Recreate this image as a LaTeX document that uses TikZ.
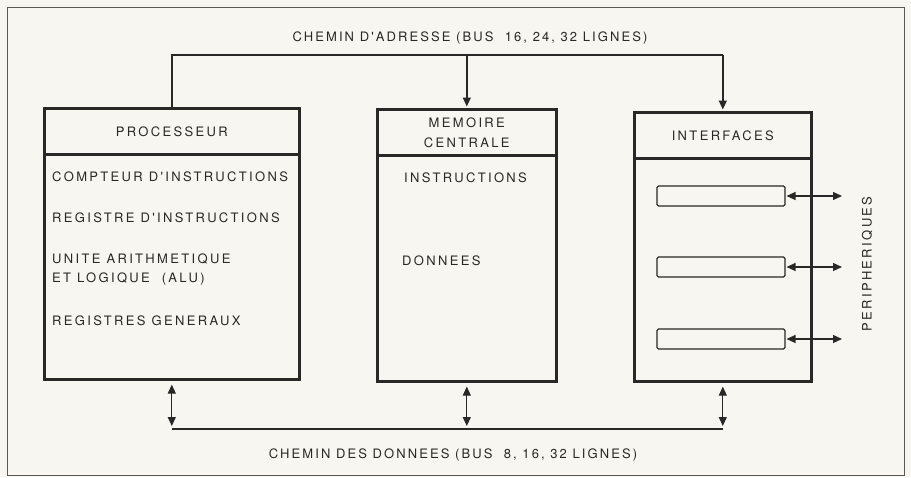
\documentclass[tikz,border=0pt]{standalone}
\usepackage{fontspec}
\newfontfamily\lab[LetterSpace=18]{TeX Gyre Heros}
\newfontfamily\buslab[LetterSpace=16]{TeX Gyre Heros}
\usetikzlibrary{arrows.meta}
\definecolor{paper}{RGB}{248,246,240}
\definecolor{ink}{RGB}{42,40,38}
\definecolor{frameink}{RGB}{90,88,85}
\begin{document}
\begin{tikzpicture}[x=1pt,y=-1pt,
  boxpart/.style={draw=ink, line width=2.6pt, inner sep=0pt, anchor=north west},
  slot/.style={draw=ink, line width=1.1pt, rounded corners=1.5pt, minimum width=128pt, minimum height=20pt, inner sep=0pt},
  txt/.style={text=ink, font=\lab\fontsize{13}{15}\selectfont, inner sep=0pt, text height=9.4pt, text depth=0pt},
  bustxt/.style={text=ink, font=\buslab\fontsize{13}{15}\selectfont, inner sep=0pt, text height=9.4pt, text depth=0pt},
  bus/.style={draw=ink, line width=1.4pt},
  tip/.style={-{Triangle[length=9pt,width=8pt]}},
  dtip/.style={{Triangle[length=9pt,width=8pt]}-{Triangle[length=9pt,width=8pt]}}]
\fill[paper] (0,0) rectangle (911,477);
\useasboundingbox (0,0) rectangle (911,477);
\draw[frameink, line width=0.9pt] (7.5,7.5) rectangle (904.5,475.5);

% boxes
\node[boxpart, minimum width=255pt, minimum height=46pt] (ph) at (43,107) {};
\node[boxpart, minimum width=255pt, minimum height=225pt] (pb) at (43,153) {};
\node[boxpart, minimum width=179pt, minimum height=46pt] (mh) at (376,108) {};
\node[boxpart, minimum width=179pt, minimum height=226pt] (mb) at (376,154) {};
\node[boxpart, minimum width=177pt, minimum height=46pt] (ih) at (633,111) {};
\node[boxpart, minimum width=177pt, minimum height=223pt] (ib) at (633,157) {};

% headers
\node[txt] (pt) at (ph.center) {PROCESSEUR};
\node[txt] (mt1) at ([yshift=10pt]mh.center) {MEMOIRE};
\node[txt] (mt2) at ([yshift=-10pt]mh.center) {CENTRALE};
\node[txt] (it) at (ih.center) {INTERFACES};

% processor content
\node[txt, anchor=west] (p1) at (52,177) {COMPTEUR D'INSTRUCTIONS};
\node[txt, anchor=west] (p2) at (52,218) {REGISTRE D'INSTRUCTIONS};
\node[txt, anchor=west] (p3) at (52,259) {UNITE ARITHMETIQUE};
\node[txt, anchor=west] (p4) at (52,278) {ET LOGIQUE \ (ALU)};
\node[txt, anchor=west] (p5) at (52,321) {REGISTRES GENERAUX};

% memory content
\node[txt, anchor=west] (m1) at (404,178) {INSTRUCTIONS};
\node[txt, anchor=west] (m2) at (402,261) {DONNEES};

% interface slots
\node[slot] (s1) at (721,196) {};
\node[slot] (s2) at (721,267) {};
\node[slot] (s3) at (721,339) {};
\coordinate (e1) at (842,196);
\coordinate (e2) at (842,267);
\coordinate (e3) at (842,339);
\draw[bus, line width=1.2pt, dtip, shorten <=1pt] (s1.east) -- (e1);
\draw[bus, line width=1.2pt, dtip, shorten <=1pt] (s2.east) -- (e2);
\draw[bus, line width=1.2pt, dtip, shorten <=1pt] (s3.east) -- (e3);
\node[txt, rotate=90] (per) at (867,264) {PERIPHERIQUES};

% address bus
\node[bustxt] (at) at (470,37) {CHEMIN D'ADRESSE (BUS \ 16, 24, 32 LIGNES)};
\coordinate (ab) at (0,55);
\draw[bus] (ph.north) -- (ph.north |- ab) -- (ih.north |- ab);
\draw[bus, tip, shorten >=1.5pt] (mh.north |- ab) -- (mh.north);
\draw[bus, tip, shorten >=1.5pt] (ih.north |- ab) -- (ih.north);

% data bus
\coordinate (db) at (0,429);
\draw[bus] (pb.south |- db) -- (ib.south |- db);
\draw[bus, line width=1.2pt, dtip, shorten <=4pt, shorten >=3pt] (pb.south) -- (pb.south |- db);
\draw[bus, line width=1.2pt, dtip, shorten <=4pt, shorten >=3pt] (mb.south) -- (mb.south |- db);
\draw[bus, line width=1.2pt, dtip, shorten <=4pt, shorten >=3pt] (ib.south) -- (ib.south |- db);
\node[bustxt] (dt) at (453,454) {CHEMIN DES DONNEES (BUS \ 8, 16, 32 LIGNES)};
\end{tikzpicture}
\end{document}
